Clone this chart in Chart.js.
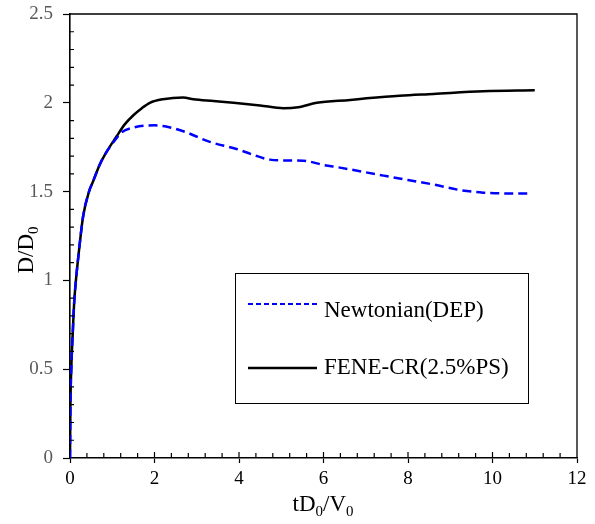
<!DOCTYPE html>
<html>
<head>
<meta charset="utf-8">
<script src="https://cdn.jsdelivr.net/npm/chart.js@4.4.0/dist/chart.umd.min.js"></script>
<style>
  html, body { margin: 0; padding: 0; background: #fff; }
  #wrap { width: 595px; height: 524px; position: relative; }
</style>
</head>
<body>
<div id="wrap"><canvas id="chart"></canvas></div>
<script>
// values
const newtonianX = [0, 0.01, 0.03, 0.07, 0.1, 0.14, 0.2, 0.31, 0.45, 0.55, 0.7, 0.83, 1.1, 1.2, 1.5, 2.0, 2.3, 2.68, 3.31, 3.94, 4.3, 4.73, 5.2, 5.52, 6.0, 6.39, 7.42, 8.0, 8.6, 9.2, 9.78, 10.3, 10.93];
const newtonianY = [0, 0.3, 0.5, 0.73, 0.88, 1.0, 1.14, 1.36, 1.5, 1.56, 1.65, 1.71, 1.8, 1.83, 1.86, 1.873, 1.865, 1.84, 1.78, 1.74, 1.71, 1.68, 1.675, 1.674, 1.65, 1.635, 1.59, 1.565, 1.54, 1.51, 1.494, 1.49, 1.49];
const feneX = [0, 0.01, 0.03, 0.07, 0.1, 0.14, 0.2, 0.31, 0.45, 0.55, 0.7, 0.83, 1.1, 1.3, 1.5, 1.7, 1.89, 2.2, 2.68, 2.92, 3.4, 3.87, 4.5, 5.05, 5.4, 5.84, 6.63, 7.02, 7.8, 8.6, 9.78, 11.0];
const feneY = [0, 0.3, 0.5, 0.73, 0.88, 1.0, 1.14, 1.36, 1.5, 1.56, 1.65, 1.71, 1.81, 1.88, 1.93, 1.97, 2.0, 2.02, 2.03, 2.02, 2.01, 2.0, 1.985, 1.97, 1.975, 2.0, 2.016, 2.025, 2.04, 2.05, 2.065, 2.07];
const seriesNames = ['Newtonian(DEP)', 'FENE-CR(2.5%PS)'];
const xTickLabels = ['0', '2', '4', '6', '8', '10', '12'];
const yTickLabels = ['0', '0.5', '1', '1.5', '2', '2.5'];

const serif = "'Liberation Serif', 'Times New Roman', serif";
const toPoints = (xs, ys) => xs.map((x, i) => ({ x: x, y: ys[i] }));

// text with subscript pieces: [text, isSub]
function drawSubText(ctx, parts, size) {
    let w = 0;
    parts.forEach(p => {
        ctx.font = (p[1] ? size * 0.65 : size) + 'px ' + serif;
        w += ctx.measureText(p[0]).width;
    });
    let cx = -w / 2;
    parts.forEach(p => {
        ctx.font = (p[1] ? size * 0.65 : size) + 'px ' + serif;
        ctx.fillText(p[0], cx, p[1] ? size * 0.22 : 0);
        cx += ctx.measureText(p[0]).width;
    });
}

const extras = {
    id: 'extras',
    afterDraw(chart) {
        const { ctx, chartArea: a, scales: { x, y } } = chart;
        ctx.save();
        ctx.strokeStyle = '#000';

        // frame top / right
        ctx.lineWidth = 1.3;
        ctx.beginPath();
        ctx.moveTo(a.left, a.top);
        ctx.lineTo(a.right, a.top);
        ctx.lineTo(a.right, a.bottom);
        ctx.stroke();

        // minor ticks pointing inward
        ctx.lineWidth = 1.2;
        ctx.beginPath();
        for (let i = 1; i < 30; i++) {
            const px = x.getPixelForValue(i * 0.4);
            const len = i % 5 === 0 ? 6 : 5;
            ctx.moveTo(px, a.bottom);
            ctx.lineTo(px, a.bottom - len);
        }
        for (let i = 1; i < 25; i++) {
            if (i % 5 === 0) continue;
            const py = y.getPixelForValue(i * 0.1);
            ctx.moveTo(a.left, py);
            ctx.lineTo(a.left + 4, py);
        }
        ctx.stroke();

        // legend box
        ctx.lineWidth = 1;
        ctx.strokeRect(235.5, 273.5, 293, 130);
        const ds = chart.data.datasets;
        const rows = [304, 368];
        const base = [317, 374];
        ds.forEach((d, i) => {
            ctx.beginPath();
            ctx.strokeStyle = d.borderColor;
            ctx.lineWidth = i === 0 ? 2 : 2.5;
            ctx.setLineDash(i === 0 ? [5, 3] : []);
            ctx.moveTo(248, rows[i]);
            ctx.lineTo(317, rows[i]);
            ctx.stroke();
            ctx.setLineDash([]);
            ctx.fillStyle = '#000';
            ctx.font = '23px ' + serif;
            ctx.textAlign = 'left';
            ctx.textBaseline = 'alphabetic';
            ctx.fillText(d.label, 324, base[i]);
        });

        // axis titles
        ctx.fillStyle = '#000';
        ctx.textAlign = 'left';
        ctx.textBaseline = 'alphabetic';
        ctx.save();
        ctx.translate(323, 511);
        drawSubText(ctx, [['tD', false], ['0', true], ['/V', false], ['0', true]], 23);
        ctx.restore();
        ctx.save();
        ctx.translate(33, 250);
        ctx.rotate(-Math.PI / 2);
        drawSubText(ctx, [['D/D', false], ['0', true]], 23);
        ctx.restore();

        ctx.restore();
    }
};

new Chart(document.getElementById('chart'), {
    type: 'line',
    data: {
        datasets: [{
            label: seriesNames[0],
            data: toPoints(newtonianX, newtonianY),
            borderColor: '#0000ff',
            borderWidth: 2.5,
            borderDash: [9, 5],
            pointRadius: 0,
            cubicInterpolationMode: 'monotone'
        }, {
            label: seriesNames[1],
            data: toPoints(feneX, feneY),
            borderColor: '#000000',
            borderWidth: 2.5,
            pointRadius: 0,
            cubicInterpolationMode: 'monotone'
        }]
    },
    options: {
        responsive: true,
        maintainAspectRatio: false,
        animation: false,
        devicePixelRatio: 1,
        layout: { padding: { top: 14, right: 18, left: 0, bottom: 0 } },
        plugins: {
            legend: { display: false },
            tooltip: { enabled: false }
        },
        scales: {
            x: {
                type: 'linear',
                min: 0,
                max: 12,
                afterFit: s => { s.height = 66; s.paddingLeft = 0; s.paddingRight = 0; },
                border: { display: true, color: '#000', width: 1.6 },
                grid: { drawOnChartArea: false, drawTicks: true, tickLength: 5, color: '#000', tickWidth: 1.2 },
                ticks: {
                    stepSize: 2,
                    padding: 5,
                    color: '#000',
                    font: { family: serif, size: 19 },
                    maxRotation: 0,
                    callback: (v) => xTickLabels[xTickLabels.indexOf(String(v))] ?? ''
                }
            },
            y: {
                type: 'linear',
                min: 0,
                max: 2.5,
                afterFit: s => { s.width = 70; s.paddingTop = 0; s.paddingBottom = 0; },
                border: { display: true, color: '#000', width: 1.6 },
                grid: { drawOnChartArea: false, drawTicks: true, tickLength: 7, color: '#000', tickWidth: 1.2 },
                ticks: {
                    stepSize: 0.5,
                    padding: 10,
                    color: '#595959',
                    font: { family: serif, size: 19 },
                    callback: (v) => yTickLabels[yTickLabels.indexOf(String(v))] ?? ''
                }
            }
        }
    },
    plugins: [extras]
});
</script>
</body>
</html>
